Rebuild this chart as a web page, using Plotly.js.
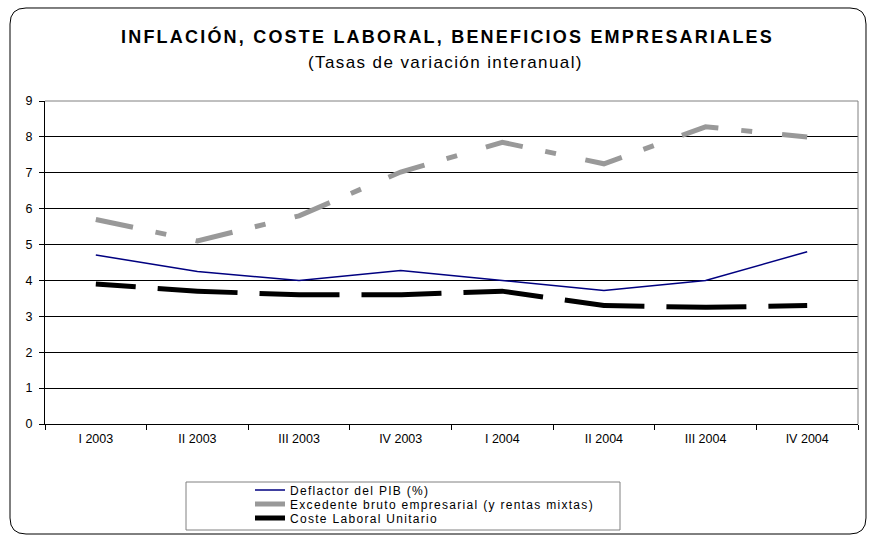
<!DOCTYPE html>
<html>
<head>
<meta charset="utf-8">
<script src="https://cdn.plot.ly/plotly-3.0.1.min.js"></script>
<style>html,body{margin:0;padding:0;background:#fff;}#chart{width:869px;height:536px;}</style>
</head>
<body>
<div id="chart"></div>
<script>
const categories = ["I 2003","II 2003","III 2003","IV 2003","I 2004","II 2004","III 2004","IV 2004"];
const deflactor = [4.71, 4.25, 4.0, 4.28, 4.0, 3.72, 4.0, 4.8];
const excedente = [5.7, 5.1, 5.8, 7.02, 7.85, 7.25, 8.28, 8.0];
const costeLaboral = [3.9, 3.7, 3.6, 3.6, 3.7, 3.3, 3.25, 3.3];
const seriesNames = ["Deflactor del PIB (%)", "Excedente bruto empresarial (y rentas mixtas)", "Coste Laboral Unitario"];
const yTicks = [0,1,2,3,4,5,6,7,8,9];
const titleText = "INFLACIÓN, COSTE LABORAL, BENEFICIOS EMPRESARIALES";
const subtitleText = "(Tasas de variación interanual)";

const W = 869, H = 536;
const M = {l:45, r:11, t:101, b:112};
const PW = W - M.l - M.r, PH = H - M.t - M.b;
const fx = px => (px - M.l) / PW;
const fy = py => (H - M.b - py) / PH;
const spaced = (t, s) => '<span style="letter-spacing:' + s + 'px">' + t + '</span>';

function roundRect(x0, y0, x1, y1, r) {
  const p = (x, y) => fx(x).toFixed(5) + "," + fy(y).toFixed(5);
  return "M" + p(x0 + r, y0) + " L" + p(x1 - r, y0) + " Q" + p(x1, y0) + " " + p(x1, y0 + r) +
         " L" + p(x1, y1 - r) + " Q" + p(x1, y1) + " " + p(x1 - r, y1) +
         " L" + p(x0 + r, y1) + " Q" + p(x0, y1) + " " + p(x0, y1 - r) +
         " L" + p(x0, y0 + r) + " Q" + p(x0, y0) + " " + p(x0 + r, y0) + " Z";
}

const FONT = "Liberation Sans, Arial, sans-serif";

const traces = [
  {x: categories, y: deflactor, name: spaced(seriesNames[0], 1.3), type: "scatter", mode: "lines",
   legend: "legend", line: {color: "#000080", width: 1.5}},
  {x: categories, y: excedente, name: spaced(seriesNames[1], 1.3), type: "scatter", mode: "lines",
   legend: "legend2", line: {color: "#999999", width: 5, dash: "38px,23px,11px,30px"}},
  {x: categories, y: costeLaboral, name: spaced(seriesNames[2], 1.3), type: "scatter", mode: "lines",
   legend: "legend3", line: {color: "#000000", width: 5, dash: "40px,22px,40px,0px"}}
];

function legendAt(cy) {
  return {
    x: fx(250), y: fy(cy), xanchor: "left", yanchor: "middle",
    bgcolor: "rgba(0,0,0,0)", borderwidth: 0,
    font: {family: FONT, size: 12, color: "#000"}
  };
}

const layout = {
  width: W, height: H,
  margin: {l: M.l, r: M.r, t: M.t, b: M.b, autoexpand: false},
  paper_bgcolor: "#ffffff", plot_bgcolor: "#ffffff",
  font: {family: FONT, size: 12, color: "#000"},
  showlegend: true,
  legend: legendAt(490),
  legend2: legendAt(504),
  legend3: legendAt(518),
  xaxis: {
    type: "category", range: [-0.5, 7.5], fixedrange: true,
    showgrid: false, zeroline: false,
    showline: true, linecolor: "#000", linewidth: 1,
    ticks: "outside", tickson: "boundaries", ticklen: 5, tickcolor: "#000",
    ticklabelstandoff: 3,
    tickfont: {family: FONT, size: 12.5, color: "#000"}
  },
  yaxis: {
    range: [0, 9], fixedrange: true, tickvals: yTicks,
    showgrid: true, gridcolor: "#000", gridwidth: 1, zeroline: false,
    showline: true, linecolor: "#000", linewidth: 1,
    ticks: "outside", ticklen: 5, tickcolor: "#000",
    ticklabelstandoff: 4,
    tickfont: {family: FONT, size: 12.5, color: "#000"}
  },
  shapes: [
    {type: "line", xref: "paper", yref: "paper", x0: 0, x1: 1, y0: 1, y1: 1, line: {color: "#808080", width: 1}},
    {type: "line", xref: "paper", yref: "paper", x0: 1, x1: 1, y0: 0, y1: 1, line: {color: "#808080", width: 1}},
    {type: "rect", xref: "paper", yref: "paper", x0: fx(186), x1: fx(620), y0: fy(482), y1: fy(530),
     line: {color: "#808080", width: 1}, layer: "below"},
    {type: "path", xref: "paper", yref: "paper", path: roundRect(10, 8, 866, 534, 16),
     line: {color: "#000", width: 1}}
  ],
  annotations: [
    {text: "<b>" + spaced(titleText, 2.2) + "</b>", xref: "paper", yref: "paper",
     x: fx(447), y: fy(37), xanchor: "center", yanchor: "middle", showarrow: false,
     font: {family: FONT, size: 18, color: "#000"}},
    {text: spaced(subtitleText, 1.4), xref: "paper", yref: "paper",
     x: fx(445), y: fy(63), xanchor: "center", yanchor: "middle", showarrow: false,
     font: {family: FONT, size: 17, color: "#000"}}
  ]
};

Plotly.newPlot("chart", traces, layout, {displayModeBar: false, staticPlot: true});
</script>
</body>
</html>
